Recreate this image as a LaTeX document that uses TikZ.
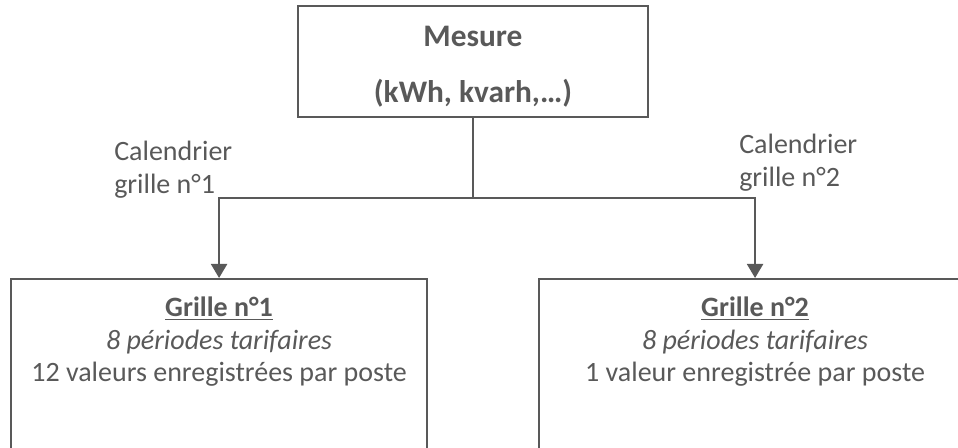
\documentclass[tikz,border=0pt]{standalone}
\usepackage{fontspec}
\setmainfont{Carlito}
\usetikzlibrary{arrows.meta,positioning}
\definecolor{lineGray}{HTML}{595959}

\begin{document}
\begin{tikzpicture}[%%
  x=0.75pt,y=-0.75pt,
  lineStyle/.style={line width=1.6pt,draw=lineGray},
  arrowStyle/.style={lineStyle,-{Triangle[width=12pt,length=10.5pt]}},
  boxStyle/.style={lineStyle,rectangle,inner sep=0pt},
  textStyle/.style={text=lineGray,inner sep=0pt,align=center,
    font=\fontsize{21}{24.4}\selectfont},
  labelStyle/.style={textStyle,align=left,anchor=north west}
]
%%
%% The frame of the picture (the lower boxes run off the page).
\path[use as bounding box,clip] (0,0) rectangle (958,448);
%%
%% The measure box.
\node[boxStyle,minimum width=350*0.75pt,minimum height=111*0.75pt,
  textStyle,font=\fontsize{23.5}{42}\selectfont\bfseries]
  (mesure) at (473,61.5) {\rule{0pt}{23pt}Mesure\\(kWh, kvarh,…)};
%%
%% The two grids.
\node[boxStyle,anchor=north west,minimum width=416*0.75pt,
  minimum height=220*0.75pt] (grilleUn) at (10,278) {};
\node[boxStyle,anchor=north west,minimum width=432*0.75pt,
  minimum height=220*0.75pt] (grilleDeux) at (538,278) {};
%%
\node[textStyle,anchor=north] (infoUn) at ([yshift=-19*0.75pt]grilleUn.north)
  {\textbf{\underline{Grille n°1}}\\\textit{8 périodes tarifaires}\\
   12 valeurs enregistrées par poste};
\node[textStyle,anchor=north] (infoDeux) at ([yshift=-19*0.75pt]grilleDeux.north)
  {\textbf{\underline{Grille n°2}}\\\textit{8 périodes tarifaires}\\
   1 valeur enregistrée par poste};
%%
%% The calendars.
\node[labelStyle] (calUn) at (114,141) {Calendrier\\grille n°1};
\node[labelStyle] (calDeux) at (739,134) {Calendrier\\grille n°2};
%%
%% Connectors.
\coordinate (junction) at (mesure.south |- 0,198);
\draw[lineStyle] (mesure.south) -- (junction);
\draw[arrowStyle] (junction) -| (grilleUn.north);
\draw[arrowStyle] (junction) -| (grilleDeux.north);
\end{tikzpicture}
\end{document}
